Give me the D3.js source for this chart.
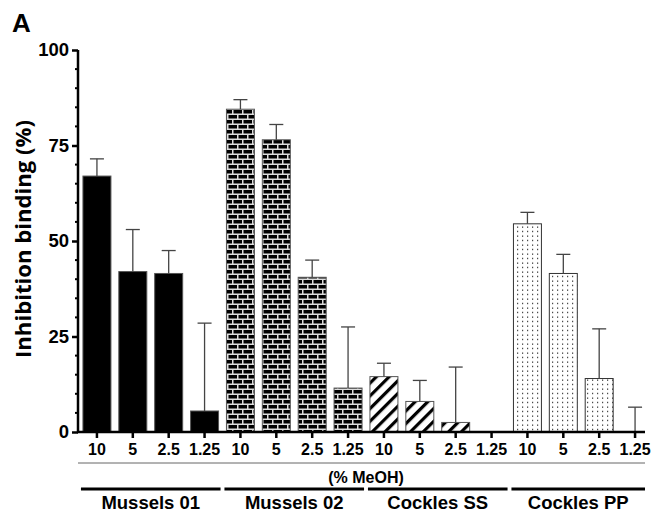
<!DOCTYPE html>
<html>
<head>
<meta charset="utf-8">
<script src="https://cdn.jsdelivr.net/npm/d3@7"></script>
<style>
  body { margin: 0; background: #fff; }
  text { font-family: Arial, "Liberation Sans", sans-serif; font-weight: bold; }
</style>
</head>
<body>
<svg width="653" height="519"></svg>
<script>
// data
var groups = ["Mussels 01", "Mussels 02", "Cockles SS", "Cockles PP"];
var doses = ["10", "5", "2.5", "1.25"];
var values = [
  [67, 42, 41.5, 5.5],
  [84.5, 76.5, 40.5, 11.5],
  [14.5, 8, 2.5, 0],
  [54.5, 41.5, 14, 0]
];
var errTops = [
  [71.5, 53, 47.5, 28.5],
  [87, 80.5, 45, 27.5],
  [18, 13.5, 17, null],
  [57.5, 46.5, 27, 6.5]
];
var yTicks = [0, 25, 50, 75, 100];

var svg = d3.select("svg");

// patterns
var defs = svg.append("defs");
var brick = defs.append("pattern").attr("id", "brick")
  .attr("patternUnits", "userSpaceOnUse").attr("width", 10).attr("height", 10);
brick.append("rect").attr("width", 10).attr("height", 10).attr("fill", "#000");
brick.append("rect").attr("y", 3.5).attr("width", 10).attr("height", 1.5).attr("fill", "#ddd");
brick.append("rect").attr("y", 8.5).attr("width", 10).attr("height", 1.5).attr("fill", "#ddd");
brick.append("rect").attr("x", 2).attr("y", 0).attr("width", 1.5).attr("height", 4).attr("fill", "#ddd");
brick.append("rect").attr("x", 7).attr("y", 5).attr("width", 1.5).attr("height", 4).attr("fill", "#ddd");

var hatch = defs.append("pattern").attr("id", "hatch")
  .attr("patternUnits", "userSpaceOnUse").attr("width", 9).attr("height", 9)
  .attr("patternTransform", "rotate(45)");
hatch.append("rect").attr("width", 9).attr("height", 9).attr("fill", "#fff");
hatch.append("rect").attr("width", 3.2).attr("height", 9).attr("fill", "#000");

var dots = defs.append("pattern").attr("id", "dots")
  .attr("patternUnits", "userSpaceOnUse").attr("width", 5).attr("height", 4.5);
dots.append("rect").attr("width", 5).attr("height", 4.5).attr("fill", "#fff");
dots.append("rect").attr("x", 2).attr("y", 1.5).attr("width", 1.2).attr("height", 1.2).attr("fill", "#222");

var fills = ["#000", "url(#brick)", "url(#hatch)", "url(#dots)"];

// flatten
var rows = [];
groups.forEach(function(g, gi) {
  doses.forEach(function(d, di) {
    rows.push({ key: gi + "-" + di, group: gi, dose: d, value: values[gi][di], err: errTops[gi][di] });
  });
});

var x = d3.scaleBand().domain(rows.map(function(r) { return r.key; }))
  .range([79, 653]).paddingInner(0.22).paddingOuter(0.11);
var y = d3.scaleLinear().domain([0, 100]).range([432, 50]);

// bars
svg.selectAll(".bar").data(rows.filter(function(r) { return r.value > 0; }))
  .join("rect")
  .attr("class", "bar")
  .attr("x", function(r) { return x(r.key); })
  .attr("width", x.bandwidth())
  .attr("y", function(r) { return y(r.value); })
  .attr("height", function(r) { return y(0) - y(r.value); })
  .attr("fill", function(r) { return fills[r.group]; })
  .attr("stroke", function(r) { return r.group === 3 ? "#333" : "#555"; })
  .attr("stroke-width", 1);

// error bars
var errRows = rows.filter(function(r) { return r.err != null; });
svg.selectAll(".err").data(errRows).join("line")
  .attr("class", "err")
  .attr("x1", function(r) { return x(r.key) + x.bandwidth() / 2; })
  .attr("x2", function(r) { return x(r.key) + x.bandwidth() / 2; })
  .attr("y1", function(r) { return y(r.value); })
  .attr("y2", function(r) { return y(r.err); })
  .attr("stroke", "#444").attr("stroke-width", 1.3);
svg.selectAll(".cap").data(errRows).join("line")
  .attr("class", "cap")
  .attr("x1", function(r) { return x(r.key) + x.bandwidth() / 2 - 7; })
  .attr("x2", function(r) { return x(r.key) + x.bandwidth() / 2 + 7; })
  .attr("y1", function(r) { return y(r.err); })
  .attr("y2", function(r) { return y(r.err); })
  .attr("stroke", "#444").attr("stroke-width", 1.3);

// y axis
var yAxis = svg.append("g").attr("transform", "translate(78,0)")
  .call(d3.axisLeft(y).tickValues(yTicks).tickSize(6).tickPadding(3));
yAxis.select(".domain").attr("stroke", "#000").attr("stroke-width", 2.5).attr("d", "M0,50V432");
yAxis.selectAll(".tick line").attr("stroke-width", 2.5);
yAxis.selectAll("text").attr("font-size", 18.5).attr("fill", "#000");
var minor = d3.range(5, 100, 5).filter(function(v) { return v % 25 !== 0; });
yAxis.selectAll(".minor").data(minor).join("line")
  .attr("class", "minor")
  .attr("x1", -3).attr("x2", 0)
  .attr("y1", function(v) { return y(v); }).attr("y2", function(v) { return y(v); })
  .attr("stroke", "#000").attr("stroke-width", 2);

// x axis
var xAxis = svg.append("g").attr("transform", "translate(0,432)")
  .call(d3.axisBottom(x).tickSize(6).tickPadding(6).tickFormat(function(k) {
    return doses[+k.split("-")[1]];
  }));
xAxis.select(".domain").attr("stroke", "#000").attr("stroke-width", 2.5).attr("d", "M77,0H645");
xAxis.selectAll(".tick line").attr("stroke-width", 2.5);
xAxis.selectAll("text").attr("font-size", 16).attr("fill", "#000");

// thin line and unit label
svg.append("line").attr("x1", 78).attr("x2", 645).attr("y1", 463).attr("y2", 463)
  .attr("stroke", "#666").attr("stroke-width", 1);
svg.append("text").attr("x", 366).attr("y", 483).attr("text-anchor", "middle")
  .attr("font-size", 16).text("(% MeOH)");

// group brackets
groups.forEach(function(g, gi) {
  var first = x(gi + "-0") - 4;
  var last = x(gi + "-3") + x.bandwidth() + 4;
  svg.append("line").attr("x1", first + 2).attr("x2", gi === 3 ? 645 : last - 2)
    .attr("y1", 489).attr("y2", 489).attr("stroke", "#000").attr("stroke-width", 3.2);
  svg.append("text").attr("x", (first + (gi === 3 ? 647 : last)) / 2).attr("y", 509)
    .attr("text-anchor", "middle").attr("font-size", 18.5).text(g);
});

// y title
svg.append("text").attr("transform", "translate(31,239) rotate(-90)")
  .attr("text-anchor", "middle").attr("font-size", 21)
  .attr("textLength", 238).attr("lengthAdjust", "spacingAndGlyphs")
  .style("font-family", "'Open Sans', Lato, sans-serif")
  .text("Inhibition binding (%)");

// panel letter
svg.append("text").attr("x", 12).attr("y", 32).attr("font-size", 26).text("A");
</script>
</body>
</html>
